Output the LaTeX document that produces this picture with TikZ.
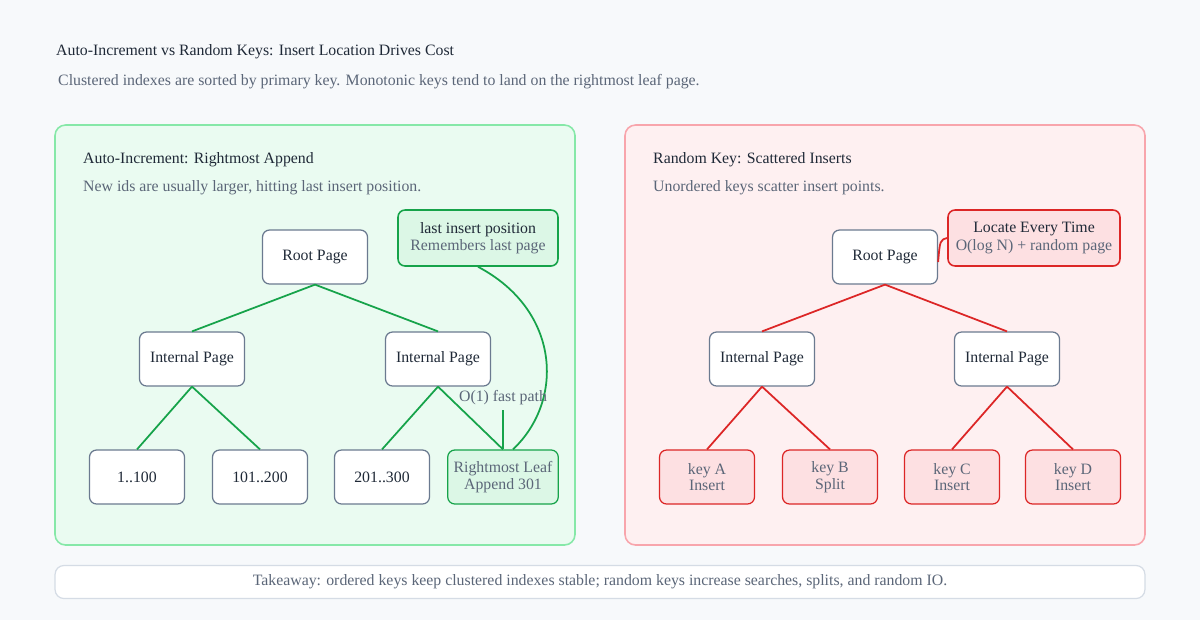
\documentclass[tikz,border=0pt]{standalone}
\usepackage{fontspec}
\setmainfont{Liberation Serif}
\usepackage{tikz}
\usetikzlibrary{arrows.meta, positioning, calc}
\definecolor{pagebg}{HTML}{F7F9FB}
\definecolor{inktext}{HTML}{1F2937}
\definecolor{softtext}{HTML}{5B6678}
\definecolor{nodeedge}{HTML}{6B7A90}
\definecolor{greenfill}{HTML}{EAFBF1}
\definecolor{greenedge}{HTML}{86E8A8}
\definecolor{greenline}{HTML}{16A34A}
\definecolor{greenbox}{HTML}{DCF7E6}
\definecolor{redfill}{HTML}{FEF0F1}
\definecolor{rededge}{HTML}{F8A5AC}
\definecolor{redline}{HTML}{DC2626}
\definecolor{redbox}{HTML}{FDE0E2}
\definecolor{takeedge}{HTML}{D5DCE5}

\begin{document}
\begin{tikzpicture}[x=0.02cm, y=-0.02cm,
    panel/.style={rounded corners=6pt, line width=0.9pt},
    page/.style={rectangle, rounded corners=4pt, draw=nodeedge, fill=white,
                 line width=0.7pt, minimum width=2.1cm, minimum height=1.08cm,
                 text=inktext, font=\fontsize{9}{9.5}\selectfont, align=center},
    leaf/.style={page, minimum width=1.9cm},
    hot/.style={leaf, draw=greenline, fill=greenbox, text=softtext},
    miss/.style={leaf, draw=redline, fill=redbox, text=softtext},
    callout/.style={rectangle, rounded corners=4pt, line width=0.9pt,
                    minimum height=1.12cm, align=center, text=inktext,
                    font=\fontsize{9}{10}\selectfont},
    link/.style={line width=1pt},
    head/.style={font=\fontsize{9}{10}\selectfont, text=inktext, anchor=west},
    note/.style={font=\fontsize{9}{10}\selectfont, text=softtext, anchor=west}
  ]
    % Background
    \fill[pagebg] (0,0) rectangle (1200,620);
    \node[head] (title) at (50,52) {Auto-Increment vs Random Keys: Insert Location Drives Cost};
    \node[note] (subtitle) at (52,82) {Clustered indexes are sorted by primary key. Monotonic keys tend to land on the rightmost leaf page.};

    % Panels
    \draw[panel, draw=greenedge, fill=greenfill] (55,125) rectangle (575,545);
    \draw[panel, draw=rededge, fill=redfill] (625,125) rectangle (1145,545);

    % Left panel: append
    \node[head] (lhead) at (77,160) {Auto-Increment: Rightmost Append};
    \node[note] (lnote) at (77,188) {New ids are usually larger, hitting last insert position.};
    \node[page] (lroot) at (315,257) {Root Page};
    \node[page] (lintA) at (192,359) {Internal Page};
    \node[page] (lintB) at (438,359) {Internal Page};
    \node[leaf] (lleafA) at (137,477) {1..100};
    \node[leaf] (lleafB) at (260,477) {101..200};
    \node[leaf] (lleafC) at (382,477) {201..300};
    \node[hot] (lleafD) at (503,477) {Rightmost Leaf\\Append 301};
    \node[callout, draw=greenline, fill=greenbox, minimum width=3.2cm] (lpos) at (478,238)
      {last insert position\\\textcolor{softtext}{Remembers last page}};

    \draw[link, greenline] (lroot.south) -- (lintA.north);
    \draw[link, greenline] (lroot.south) -- (lintB.north);
    \draw[link, greenline] (lintA.south) -- (lleafA.north);
    \draw[link, greenline] (lintA.south) -- (lleafB.north);
    \draw[link, greenline] (lintB.south) -- (lleafC.north);
    \draw[link, greenline] (lintB.south) -- (lleafD.north);
    \draw[link, greenline] (lpos.south) .. controls (560,310) and (565,400) .. ([xshift=0.2cm]lleafD.north);
    \node[font=\fontsize{9}{10}\selectfont, text=softtext] (fast) at (503,398) {O(1) fast path};
    \coordinate (fastfoot) at (503,410);
    \draw[link, greenline] (fastfoot) -- (lleafD.north);

    % Right panel: scattered
    \node[head] (rhead) at (647,160) {Random Key: Scattered Inserts};
    \node[note] (rnote) at (647,188) {Unordered keys scatter insert points.};
    \node[page] (rroot) at (885,257) {Root Page};
    \node[page] (rintA) at (762,359) {Internal Page};
    \node[page] (rintB) at (1007,359) {Internal Page};
    \node[miss] (rleafA) at (707,477) {key A\\Insert};
    \node[miss] (rleafB) at (830,477) {key B\\Split};
    \node[miss] (rleafC) at (952,477) {key C\\Insert};
    \node[miss] (rleafD) at (1073,477) {key D\\Insert};
    \node[callout, draw=redline, fill=redbox, minimum width=3.44cm] (rpos) at (1034,238)
      {Locate Every Time\\\textcolor{softtext}{O(log N) + random page}};

    \draw[link, redline] (rroot.south) -- (rintA.north);
    \draw[link, redline] (rroot.south) -- (rintB.north);
    \draw[link, redline] (rintA.south) -- (rleafA.north);
    \draw[link, redline] (rintA.south) -- (rleafB.north);
    \draw[link, redline] (rintB.south) -- (rleafC.north);
    \draw[link, redline] (rintB.south) -- (rleafD.north);
    \draw[link, redline] ([yshift=-0.1cm]rroot.east) .. controls (940,240) .. (rpos.west);

    % Takeaway
    \node[rectangle, rounded corners=5pt, draw=takeedge, fill=white, line width=0.7pt,
          minimum width=21.8cm, minimum height=0.66cm, text=softtext,
          font=\fontsize{9}{10}\selectfont] (takeaway) at (600,582)
      {Takeaway: ordered keys keep clustered indexes stable; random keys increase searches, splits, and random IO.};
\end{tikzpicture}
\end{document}
